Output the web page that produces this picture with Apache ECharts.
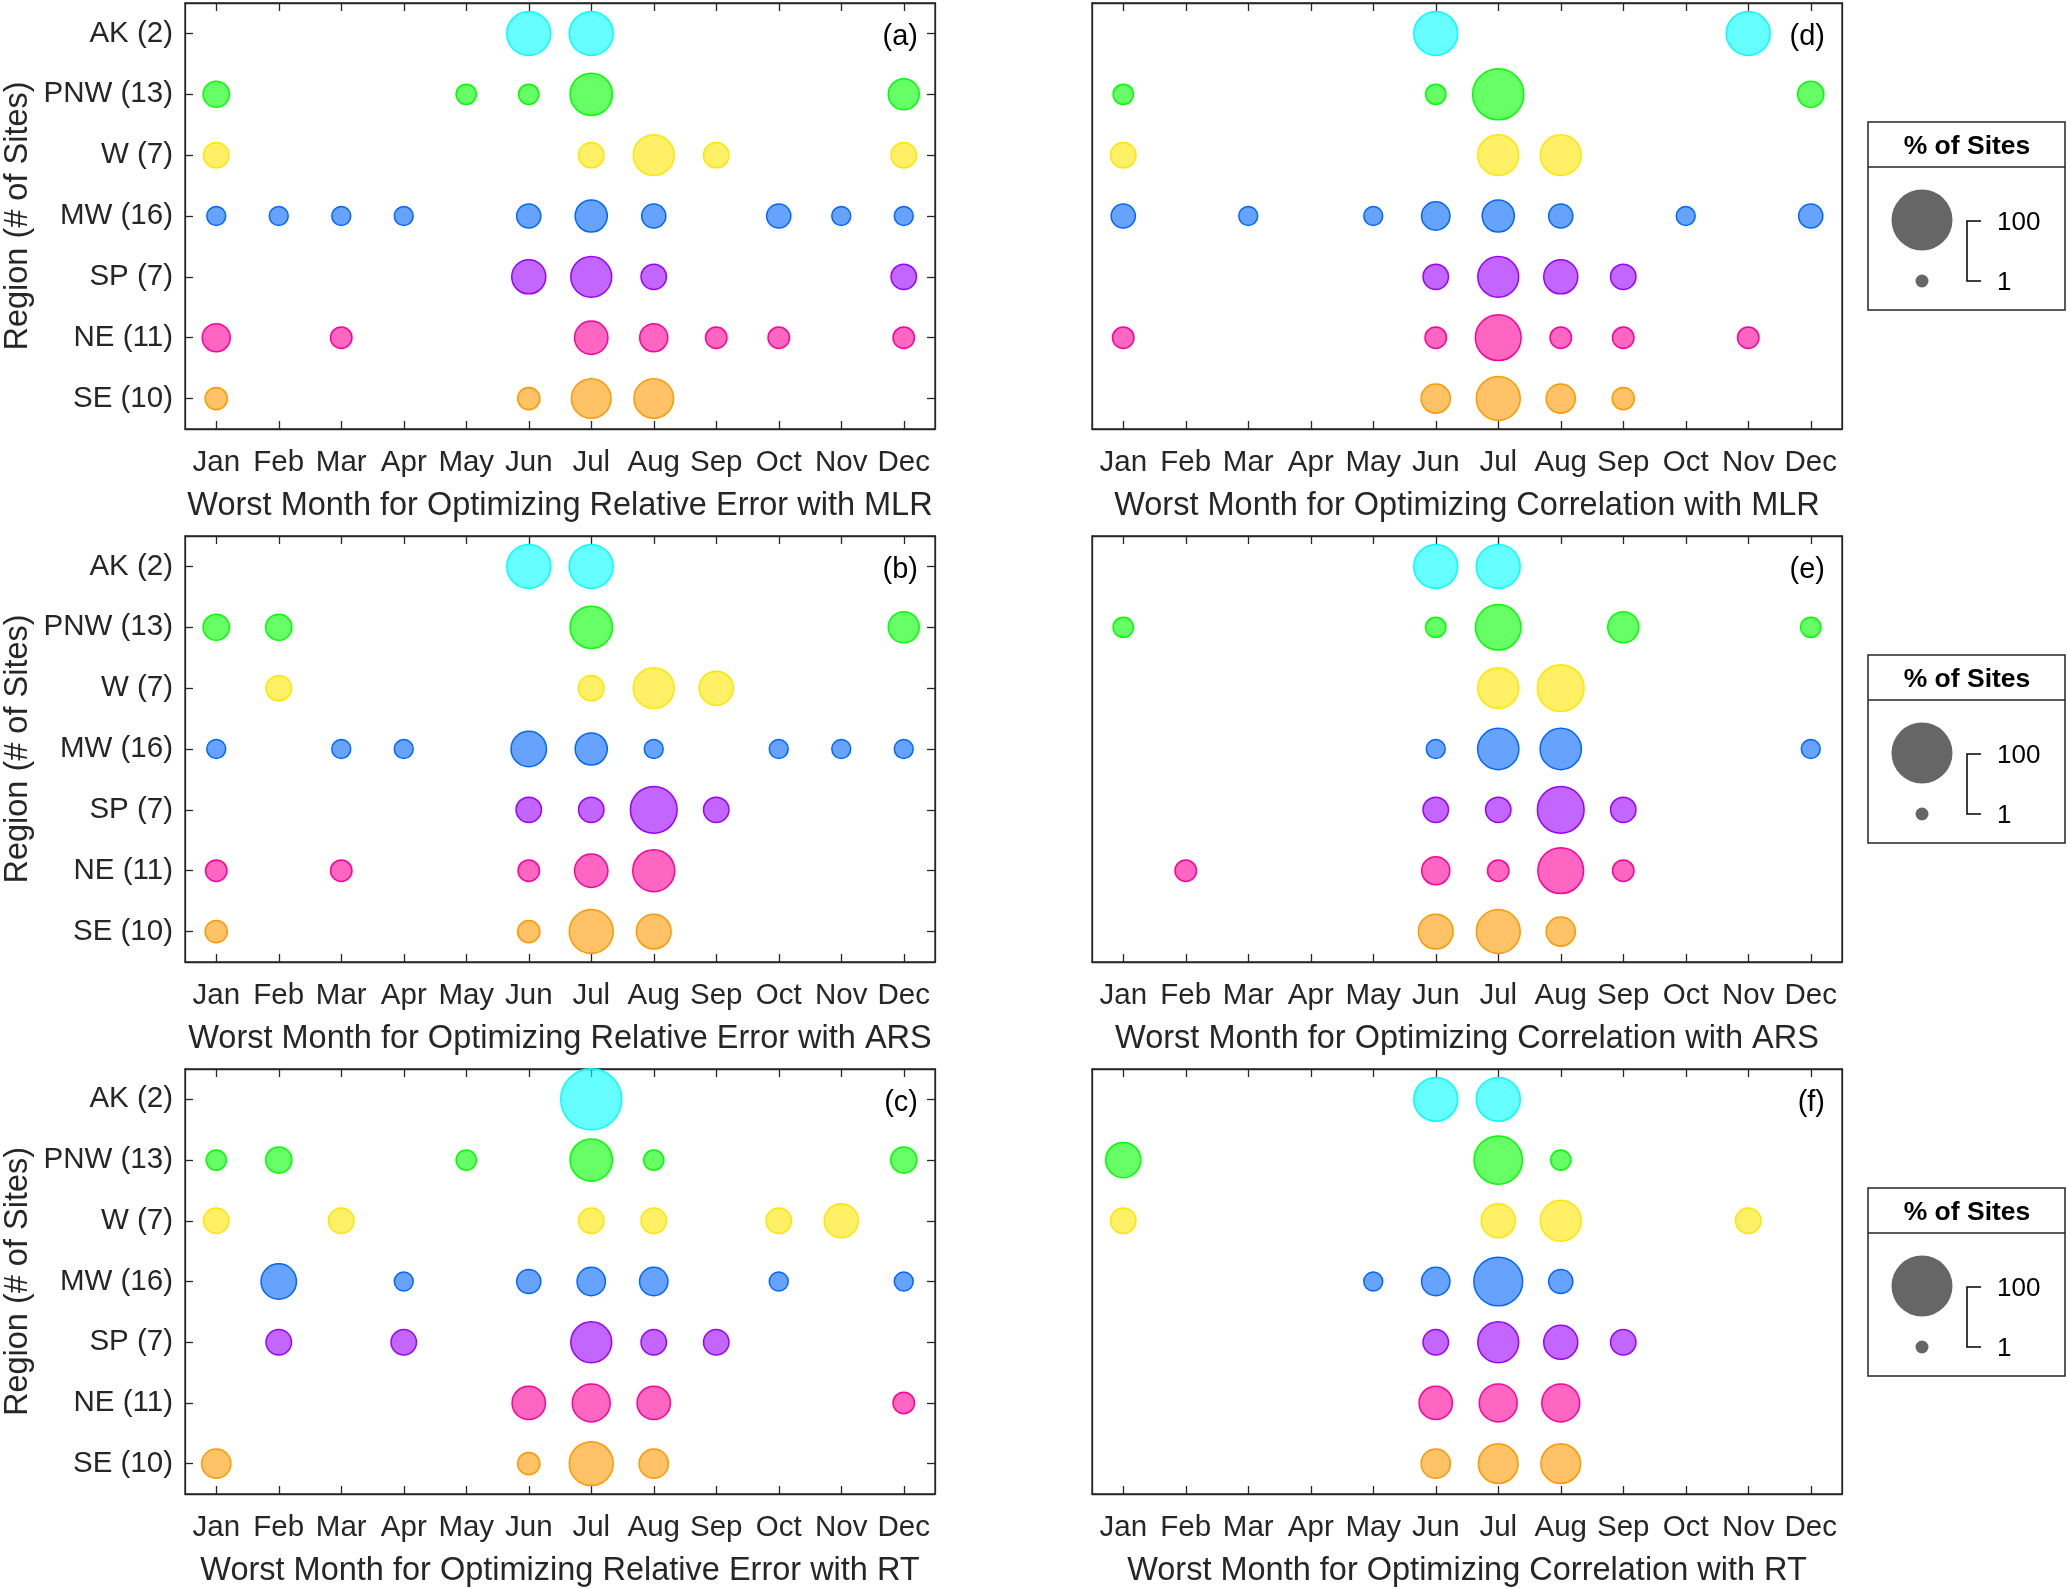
<!DOCTYPE html>
<html>
<head>
<meta charset="utf-8">
<script src="https://cdn.jsdelivr.net/npm/echarts@6/dist/echarts.min.js"></script>
<style>html,body{margin:0;padding:0;background:#fff;}#chart{width:2067px;height:1589px;}</style>
</head>
<body>
<div id="chart"></div>
<script>
// ---------- DATA ----------
const months = ['Jan','Feb','Mar','Apr','May','Jun','Jul','Aug','Sep','Oct','Nov','Dec'];
const regions = ['AK (2)','PNW (13)','W (7)','MW (16)','SP (7)','NE (11)','SE (10)'];
const siteCounts = [2, 13, 7, 16, 7, 11, 10];
const panelLetters = ['(a)','(b)','(c)','(d)','(e)','(f)'];
const panelTitles = [
  'Worst Month for Optimizing Relative Error with MLR',
  'Worst Month for Optimizing Relative Error with ARS',
  'Worst Month for Optimizing Relative Error with RT',
  'Worst Month for Optimizing Correlation with MLR',
  'Worst Month for Optimizing Correlation with ARS',
  'Worst Month for Optimizing Correlation with RT'
];
// number of sites whose worst month is each month (rows: regions, cols: Jan..Dec)
const countsA = [
  [0,0,0,0,0,1,1,0,0,0,0,0],
  [2,0,0,0,1,1,6,0,0,0,0,3],
  [1,0,0,0,0,0,1,3,1,0,0,1],
  [1,1,1,1,0,2,4,2,0,2,1,1],
  [0,0,0,0,0,2,3,1,0,0,0,1],
  [2,0,1,0,0,0,3,2,1,1,0,1],
  [1,0,0,0,0,1,4,4,0,0,0,0]
];
const countsB = [
  [0,0,0,0,0,1,1,0,0,0,0,0],
  [2,2,0,0,0,0,6,0,0,0,0,3],
  [0,1,0,0,0,0,1,3,2,0,0,0],
  [1,0,1,1,0,5,4,1,0,1,1,1],
  [0,0,0,0,0,1,1,4,1,0,0,0],
  [1,0,1,0,0,1,3,5,0,0,0,0],
  [1,0,0,0,0,1,5,3,0,0,0,0]
];
const countsC = [
  [0,0,0,0,0,0,2,0,0,0,0,0],
  [1,2,0,0,1,0,6,1,0,0,0,2],
  [1,0,1,0,0,0,1,1,0,1,2,0],
  [0,5,0,1,0,2,3,3,0,1,0,1],
  [0,1,0,1,0,0,3,1,1,0,0,0],
  [0,0,0,0,0,3,4,3,0,0,0,1],
  [2,0,0,0,0,1,5,2,0,0,0,0]
];
const countsD = [
  [0,0,0,0,0,1,0,0,0,0,1,0],
  [1,0,0,0,0,1,9,0,0,0,0,2],
  [1,0,0,0,0,0,3,3,0,0,0,0],
  [2,0,1,0,1,3,4,2,0,1,0,2],
  [0,0,0,0,0,1,3,2,1,0,0,0],
  [1,0,0,0,0,1,6,1,1,0,1,0],
  [0,0,0,0,0,2,5,2,1,0,0,0]
];
const countsE = [
  [0,0,0,0,0,1,1,0,0,0,0,0],
  [1,0,0,0,0,1,7,0,3,0,0,1],
  [0,0,0,0,0,0,3,4,0,0,0,0],
  [0,0,0,0,0,1,7,7,0,0,0,1],
  [0,0,0,0,0,1,1,4,1,0,0,0],
  [0,1,0,0,0,2,1,6,1,0,0,0],
  [0,0,0,0,0,3,5,2,0,0,0,0]
];
const countsF = [
  [0,0,0,0,0,1,1,0,0,0,0,0],
  [4,0,0,0,0,0,8,1,0,0,0,0],
  [1,0,0,0,0,0,2,3,0,0,1,0],
  [0,0,0,0,1,3,10,2,0,0,0,0],
  [0,0,0,0,0,1,3,2,1,0,0,0],
  [0,0,0,0,0,3,4,4,0,0,0,0],
  [0,0,0,0,0,2,4,4,0,0,0,0]
];
const legendTicks = [100, 1];

// ---------- STYLE / LAYOUT ----------
const panels = [countsA, countsB, countsC, countsD, countsE, countsF];
const regionColors = ['#00ffff','#00ff00','#ffe600','#0066ff','#9900ff','#ff0099','#ff9900'];
const FONT = 'Liberation Sans, Arial, Helvetica, sans-serif';
const AX = '#262626';
const colLeft = [185, 1092];
const gridW = 750;
const rowTop = [3, 536, 1069];
const gridH = 426;
// bubble size: area linear in % between 1% (d=13px) and 100% (d=61px)
const D_MIN = 13, D_MAX = 61;
function bubbleD(pct) {
  const a = D_MIN * D_MIN, b = D_MAX * D_MAX;
  return Math.sqrt(a + (b - a) * (pct - legendTicks[1]) / (legendTicks[0] - legendTicks[1]));
}
function hexToRgba(h, a) {
  const r = parseInt(h.slice(1,3),16), g = parseInt(h.slice(3,5),16), bl = parseInt(h.slice(5,7),16);
  return 'rgba(' + r + ',' + g + ',' + bl + ',' + a + ')';
}

const grids = [], xAxes = [], yAxes = [], series = [], graphics = [];
panels.forEach(function (counts, p) {
  const col = p < 3 ? 0 : 1;
  const row = p % 3;
  grids.push({ left: colLeft[col], top: rowTop[row], width: gridW, height: gridH,
    show: true, borderColor: AX, borderWidth: 1.3, containLabel: false });
  const tickStyle = { color: AX, width: 1.3 };
  xAxes.push({
    gridIndex: p, type: 'category', data: months, boundaryGap: true, position: 'bottom',
    axisLine: { show: true, lineStyle: tickStyle },
    axisTick: { show: true, inside: true, alignWithLabel: true, length: 8, lineStyle: tickStyle },
    axisLabel: { show: true, interval: 0, margin: 19, fontSize: 29.5, color: AX, fontFamily: FONT },
    splitLine: { show: false },
    name: panelTitles[p], nameLocation: 'middle', nameGap: 61,
    nameTextStyle: { fontSize: 32.5, color: AX, fontFamily: FONT }
  });
  xAxes.push({
    gridIndex: p, type: 'category', data: months, boundaryGap: true, position: 'top',
    axisLine: { show: true, lineStyle: tickStyle },
    axisTick: { show: true, inside: true, alignWithLabel: true, length: 8, lineStyle: tickStyle },
    axisLabel: { show: false }, splitLine: { show: false }
  });
  const leftCol = col === 0;
  yAxes.push({
    gridIndex: p, type: 'category', data: regions, inverse: true, boundaryGap: true, position: 'left',
    axisLine: { show: true, lineStyle: tickStyle },
    axisTick: { show: leftCol, inside: true, alignWithLabel: true, length: 8, lineStyle: tickStyle },
    axisLabel: { show: leftCol, interval: 0, margin: 12, fontSize: 29.5, color: AX, fontFamily: FONT },
    splitLine: { show: false },
    name: leftCol ? 'Region (# of Sites)' : '', nameLocation: 'middle', nameGap: 150, nameRotate: 90,
    nameTextStyle: { fontSize: 32.5, color: AX, fontFamily: FONT }
  });
  yAxes.push({
    gridIndex: p, type: 'category', data: regions, inverse: true, boundaryGap: true, position: 'right',
    axisLine: { show: true, lineStyle: tickStyle },
    axisTick: { show: leftCol, inside: true, alignWithLabel: true, length: 8, lineStyle: tickStyle },
    axisLabel: { show: false }, splitLine: { show: false }
  });
  counts.forEach(function (rowCounts, r) {
    const data = [];
    rowCounts.forEach(function (c, m) {
      if (c > 0) data.push([m, r, c / siteCounts[r] * 100]);
    });
    series.push({
      type: 'scatter', xAxisIndex: 2 * p, yAxisIndex: 2 * p, data: data,
      symbol: 'circle',
      symbolSize: function (v) { return bubbleD(v[2]); },
      itemStyle: { color: hexToRgba(regionColors[r], 0.6), borderColor: regionColors[r], borderWidth: 1.5, opacity: 1 },
      emphasis: { disabled: true }, silent: true
    });
  });
  // panel letter
  graphics.push({ type: 'text', x: colLeft[col] + gridW - 17, y: rowTop[row] + 34,
    style: { text: panelLetters[p], fontSize: 29, fill: '#000', fontFamily: FONT,
      textAlign: 'right', textVerticalAlign: 'middle' } });
});

// size legends (one per row)
rowTop.forEach(function (t) {
  const o = t - 3;
  graphics.push({ type: 'rect', shape: { x: 1868, y: 122 + o, width: 197, height: 188 },
    style: { fill: '#fff', stroke: AX, lineWidth: 1.5 } });
  graphics.push({ type: 'line', shape: { x1: 1868, y1: 167 + o, x2: 2065, y2: 167 + o },
    style: { stroke: AX, lineWidth: 1.5 } });
  graphics.push({ type: 'text', x: 1967, y: 147 + o,
    style: { text: '% of Sites', fontSize: 26.5, fontWeight: 'bold', fill: '#000', fontFamily: FONT,
      textAlign: 'center', textVerticalAlign: 'middle' } });
  graphics.push({ type: 'circle', shape: { cx: 1922, cy: 220 + o, r: bubbleD(legendTicks[0]) / 2 },
    style: { fill: '#666666' } });
  graphics.push({ type: 'circle', shape: { cx: 1922, cy: 281 + o, r: bubbleD(legendTicks[1]) / 2 },
    style: { fill: '#666666' } });
  graphics.push({ type: 'polyline', shape: { points: [[1981, 221 + o], [1967, 221 + o], [1967, 281 + o], [1981, 281 + o]] },
    style: { stroke: '#000', lineWidth: 1.5, fill: null } });
  graphics.push({ type: 'text', x: 1997, y: 223 + o,
    style: { text: String(legendTicks[0]), fontSize: 26, fill: '#000', fontFamily: FONT, textVerticalAlign: 'middle' } });
  graphics.push({ type: 'text', x: 1997, y: 283 + o,
    style: { text: String(legendTicks[1]), fontSize: 26, fill: '#000', fontFamily: FONT, textVerticalAlign: 'middle' } });
});

const chart = echarts.init(document.getElementById('chart'), null, { renderer: 'canvas' });
chart.setOption({
  animation: false,
  backgroundColor: '#fff',
  grid: grids, xAxis: xAxes, yAxis: yAxes, series: series, graphic: graphics
});
</script>
</body>
</html>
